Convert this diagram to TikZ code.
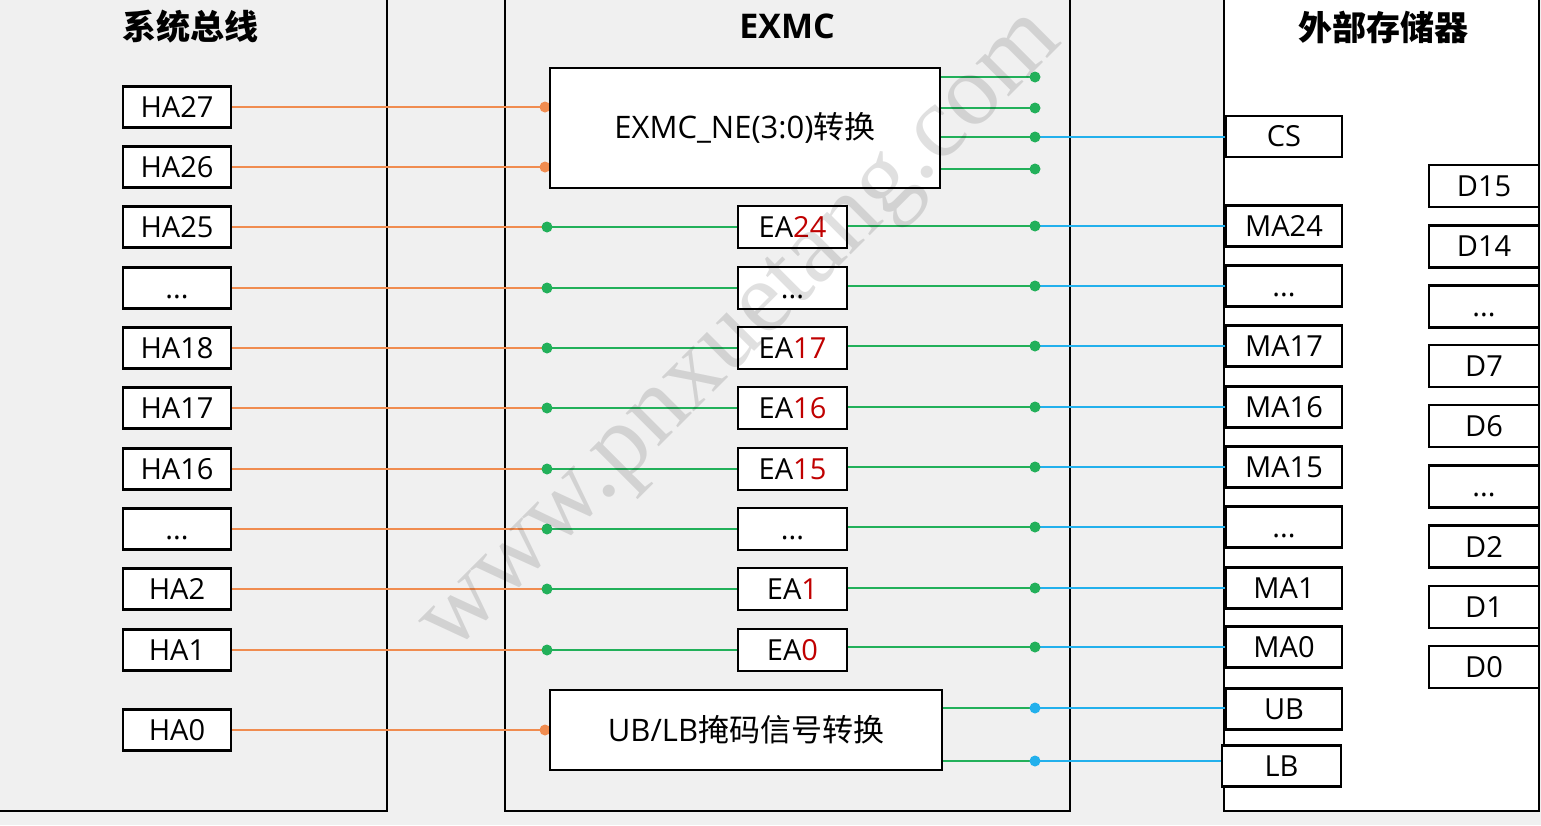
\documentclass[tikz,border=0pt]{standalone}
\usepackage{fontspec}
\setmainfont{Open Sans}
\newfontfamily\cjk{Noto Sans CJK SC}
\newfontfamily\wmfont{Liberation Serif}
\definecolor{bgC}{HTML}{F0F0F0}
\definecolor{orangeC}{HTML}{F08C50}
\definecolor{greenC}{HTML}{22B05A}
\definecolor{blueC}{HTML}{22B0EC}
\definecolor{redC}{HTML}{C00000}
\newcommand{\dd}{\vphantom{H}...}
\pgfdeclarelayer{back}
\pgfdeclarelayer{wires}
\pgfsetlayers{back,wires,main}
\begin{document}
\begin{tikzpicture}[x=1pt,y=-1pt,
  box/.style={draw=black,line width=2.6pt,fill=white,inner sep=0pt,font=\fontsize{29}{34}\selectfont},
  hbox/.style={box,minimum width=108pt,minimum height=41pt},
  ebox/.style={box,minimum width=109pt,minimum height=42pt},
  mbox/.style={box,minimum width=116pt,minimum height=41pt},
  dbox/.style={box,minimum width=110pt,minimum height=42pt},
  bigbox/.style={box,font=\fontsize{31}{36}\selectfont},
  title/.style={font=\fontsize{34}{40}\selectfont\bfseries},
  ow/.style={draw=orangeC,line width=2pt},
  gw/.style={draw=greenC,line width=2pt},
  bw/.style={draw=blueC,line width=2pt},
  panel/.style={draw=black,line width=2.8pt}
]
\useasboundingbox (0,0) rectangle (1541,825);
\begin{pgfonlayer}{back}
\fill[bgC] (0,0) rectangle (1541,825);
\draw[panel] (387,-5) -- (387,811) -- (-5,811);
\draw[panel] (505,-5) -- (505,811) -- (1070,811) -- (1070,-5);
\draw[panel,fill=white] (1224,-5) rectangle (1539,811);
\end{pgfonlayer}

% titles
\node[title] (t1) at (190,27) {\cjk\bfseries 系统总线};
\node[title] (t2) at (787,26) {EXMC};
\node[title] (t3) at (1383,27) {\cjk\bfseries 外部存储器};

% system bus
\node[hbox] (ha27) at (177,107) {HA27};
\node[hbox] (ha26) at (177,167) {HA26};
\node[hbox] (ha25) at (177,227) {HA25};
\node[hbox] (hadA) at (177,288) {\dd};
\node[hbox] (ha18) at (177,348) {HA18};
\node[hbox] (ha17) at (177,408) {HA17};
\node[hbox] (ha16) at (177,469) {HA16};
\node[hbox] (hadB) at (177,529) {\dd};
\node[hbox] (ha2) at (177,589) {HA2};
\node[hbox] (ha1) at (177,650) {HA1};
\node[hbox] (ha0) at (177,730) {HA0};

% EXMC
\node[bigbox,minimum width=390pt,minimum height=120pt] (ne) at (745,128) {EXMC\_NE(3:0){\cjk 转换}};
\node[ebox] (ea24) at (792.5,227) {EA{\color{redC}24}};
\node[ebox] (eadA) at (792.5,288) {\dd};
\node[ebox] (ea17) at (792.5,348) {EA{\color{redC}17}};
\node[ebox] (ea16) at (792.5,408) {EA{\color{redC}16}};
\node[ebox] (ea15) at (792.5,469) {EA{\color{redC}15}};
\node[ebox] (eadB) at (792.5,529) {\dd};
\node[ebox] (ea1) at (792.5,589) {EA{\color{redC}1}};
\node[ebox] (ea0) at (792.5,650) {EA{\color{redC}0}};
\node[bigbox,minimum width=392pt,minimum height=80pt] (ublb) at (746,730) {UB/LB{\cjk 掩码信号转换}};

% memory
\node[mbox] (cs) at (1284,136.5) {CS};
\node[mbox] (ma24) at (1284,226) {MA24};
\node[mbox] (madA) at (1284,286) {\dd};
\node[mbox] (ma17) at (1284,346) {MA17};
\node[mbox] (ma16) at (1284,407) {MA16};
\node[mbox] (ma15) at (1284,467) {MA15};
\node[mbox] (madB) at (1284,527) {\dd};
\node[mbox] (ma1) at (1284,588) {MA1};
\node[mbox] (ma0) at (1284,647) {MA0};
\node[mbox] (ub) at (1284,709) {UB};
\node[mbox,minimum width=119pt] (lb) at (1281.5,766) {LB};

\node[dbox] (d15) at (1484,186) {D15};
\node[dbox] (d14) at (1484,246.5) {D14};
\node[dbox] (ddA) at (1484,306.5) {\dd};
\node[dbox] (d7) at (1484,366) {D7};
\node[dbox] (d6) at (1484,426) {D6};
\node[dbox] (ddB) at (1484,486.5) {\dd};
\node[dbox] (d2) at (1484,546.5) {D2};
\node[dbox] (d1) at (1484,607) {D1};
\node[dbox] (d0) at (1484,667) {D0};

\coordinate (colL) at (547,0);
\coordinate (colO) at (545,0);
\coordinate (colR) at (1035,0);
\coordinate (ne1) at (1035,77);
\coordinate (ne2) at (1035,108);
\coordinate (ne3) at (1035,137);
\coordinate (ne4) at (1035,169);
\coordinate (ubR) at (1035,708);
\coordinate (lbR) at (1035,761);

\begin{pgfonlayer}{wires}
\foreach \h/\e/\m in {ha25/ea24/ma24, hadA/eadA/madA, ha18/ea17/ma17, ha17/ea16/ma16, ha16/ea15/ma15, hadB/eadB/madB, ha2/ea1/ma1, ha1/ea0/ma0}{
  \draw[ow] (\h.east) -- (colL |- \h);
  \draw[gw] (colL |- \h) -- (\e.west);
  \draw[gw] (\e.east |- \m) -- (colR |- \m);
  \draw[bw] (colR |- \m) -- (\m.west);
  \fill[greenC] (colL |- \h) circle (5.5pt);
  \fill[greenC] (colR |- \m) circle (5.5pt);
}
\foreach \h/\t in {ha27/ne, ha26/ne, ha0/ublb}{
  \draw[ow] (\h.east) -- (\t.west |- \h);
  \fill[orangeC] (colO |- \h) circle (5.5pt);
}
\foreach \k in {ne1,ne2,ne3,ne4}{
  \draw[gw] (ne.east |- \k) -- (\k);
}
\draw[bw] (ne3) -- (cs.west |- ne3);
\foreach \k in {ne1,ne2,ne3,ne4}{
  \fill[greenC] (\k) circle (5.5pt);
}
\draw[gw] (ublb.east |- ubR) -- (ubR);
\draw[bw] (ubR) -- (ub.west |- ubR);
\draw[gw] (ublb.east |- lbR) -- (lbR);
\draw[bw] (lbR) -- (lb.west |- lbR);
\fill[blueC] (ubR) circle (5.5pt);
\fill[blueC] (lbR) circle (5.5pt);
\end{pgfonlayer}

% watermark
\node[rotate=45,text=black,opacity=0.12,font=\wmfont\fontsize{102}{102}\selectfont] (wm) at (745,336) {www.pnxuetang.com};
\end{tikzpicture}
\end{document}
